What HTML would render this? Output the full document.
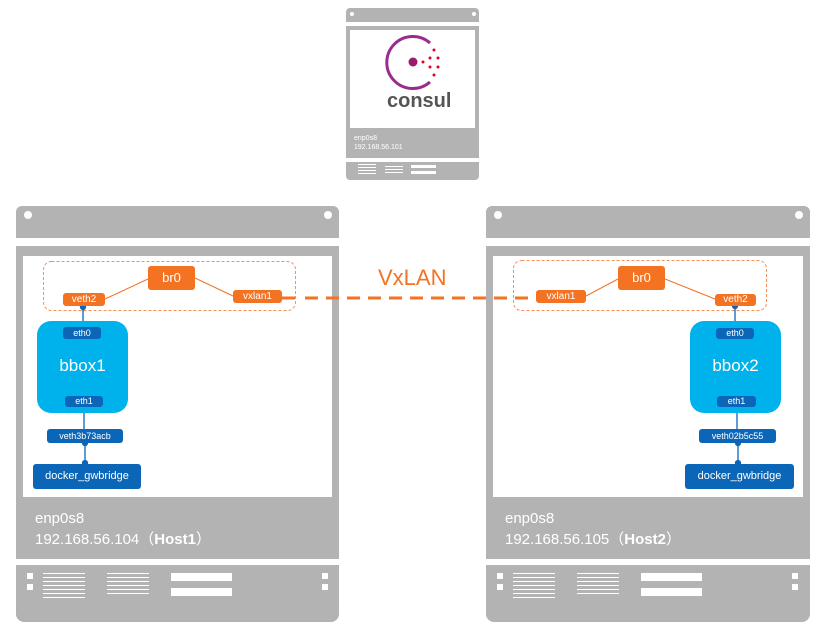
<!DOCTYPE html>
<html><head><meta charset="utf-8"><style>
body{margin:0;width:821px;height:627px;background:#fff;position:relative;overflow:hidden;font-family:"Liberation Sans","DejaVu Sans",sans-serif}
div{position:absolute;box-sizing:border-box}
.g{background:#b3b3b3}
.w{background:#fff}
.o{background:#f47322;color:#fff;text-align:center;border-radius:3px}
.b{background:#0b66b8;color:#fff;text-align:center;border-radius:3px}
.c{background:#00b2ec;color:#fff;text-align:center;border-radius:14px}
.t{color:#fff}
.dot{background:#fff;border-radius:50%}
.sq{background:#fff}
</style></head><body>
<!-- consul -->
<div class="g" style="left:346px;top:8px;width:133px;height:14px;border-radius:4px 4px 0 0"></div>
<div class="dot" style="left:350px;top:12px;width:4px;height:4px"></div>
<div class="dot" style="left:472px;top:12px;width:4px;height:4px"></div>
<div class="g" style="left:346px;top:26px;width:133px;height:132px"></div>
<div class="w" style="left:350px;top:30px;width:125px;height:98px"></div>
<svg style="position:absolute;left:0;top:0" width="821" height="627">
<path d="M430 43 A26 26 0 1 0 430 82" fill="none" stroke="#9a2b8f" stroke-width="3"/>
<circle cx="413" cy="62" r="4.5" fill="#9a1d6d"/>
<g fill="#e0002a"><circle cx="423" cy="62" r="1.5"/><circle cx="434" cy="50" r="1.5"/><circle cx="430" cy="58" r="1.5"/><circle cx="438" cy="58" r="1.5"/><circle cx="430" cy="67" r="1.5"/><circle cx="438" cy="67" r="1.5"/><circle cx="434" cy="75" r="1.5"/></g>
</svg>
<div style="left:387px;top:90px;font-size:20px;font-weight:bold;color:#555">consul</div>
<div class="t" style="left:354px;top:134px;font-size:7px;line-height:9px">enp0s8<br>192.168.56.101</div>
<div class="g" style="left:346px;top:162px;width:133px;height:18px;border-radius:0 0 4px 4px"></div>
<div class="sq" style="left:411px;top:165px;width:25px;height:3px"></div>
<div class="sq" style="left:411px;top:171px;width:25px;height:3px"></div>

<!-- Host1 -->
<div class="g" style="left:16px;top:206px;width:323px;height:32px;border-radius:6px 6px 0 0"></div>
<div class="dot" style="left:24px;top:211px;width:8px;height:8px"></div>
<div class="dot" style="left:324px;top:211px;width:8px;height:8px"></div>
<div class="g" style="left:16px;top:246px;width:323px;height:313px"></div>
<div class="w" style="left:23px;top:256px;width:309px;height:241px"></div>
<div class="t" style="left:35px;top:508px;font-size:15px;line-height:21px">enp0s8<br>192.168.56.104（<b>Host1</b>）</div>
<div class="g" style="left:16px;top:565px;width:323px;height:57px;border-radius:0 0 8px 8px"></div>
<div class="sq" style="left:27px;top:573px;width:6px;height:6px"></div><div class="sq" style="left:27px;top:584px;width:6px;height:6px"></div>
<div class="sq" style="left:322px;top:573px;width:6px;height:6px"></div><div class="sq" style="left:322px;top:584px;width:6px;height:6px"></div>
<div class="sq" style="left:171px;top:573px;width:61px;height:8px"></div><div class="sq" style="left:171px;top:588px;width:61px;height:8px"></div>

<!-- Host2 -->
<div class="g" style="left:486px;top:206px;width:324px;height:32px;border-radius:6px 6px 0 0"></div>
<div class="dot" style="left:494px;top:211px;width:8px;height:8px"></div>
<div class="dot" style="left:795px;top:211px;width:8px;height:8px"></div>
<div class="g" style="left:486px;top:246px;width:324px;height:313px"></div>
<div class="w" style="left:493px;top:256px;width:310px;height:241px"></div>
<div class="t" style="left:505px;top:508px;font-size:15px;line-height:21px">enp0s8<br>192.168.56.105（<b>Host2</b>）</div>
<div class="g" style="left:486px;top:565px;width:324px;height:57px;border-radius:0 0 8px 8px"></div>
<div class="sq" style="left:497px;top:573px;width:6px;height:6px"></div><div class="sq" style="left:497px;top:584px;width:6px;height:6px"></div>
<div class="sq" style="left:792px;top:573px;width:6px;height:6px"></div><div class="sq" style="left:792px;top:584px;width:6px;height:6px"></div>
<div class="sq" style="left:641px;top:573px;width:61px;height:8px"></div><div class="sq" style="left:641px;top:588px;width:61px;height:8px"></div>

<svg style="position:absolute;left:0;top:0" width="821" height="627">
<g stroke="#fff" stroke-width="1">
<path d="M43 573.5h42M43 577.5h42M43 581.5h42M43 585.5h42M43 589.5h42M43 593.5h42M43 597.5h42"/>
<path d="M107 573.5h42M107 577.5h42M107 581.5h42M107 585.5h42M107 589.5h42M107 593.5h42"/>
<path d="M513 573.5h42M513 577.5h42M513 581.5h42M513 585.5h42M513 589.5h42M513 593.5h42M513 597.5h42"/>
<path d="M577 573.5h42M577 577.5h42M577 581.5h42M577 585.5h42M577 589.5h42M577 593.5h42"/>
<path d="M358 164.5h18M358 167.5h18M358 170.5h18M358 173.5h18M385 166.5h18M385 169.5h18M385 172.5h18"/>
</g>
<rect x="43.5" y="261.5" width="252" height="49" rx="8" fill="none" stroke="#f4915a" stroke-dasharray="3,2"/>
<rect x="513.5" y="260.5" width="253" height="50" rx="8" fill="none" stroke="#f4915a" stroke-dasharray="3,2"/>
<g stroke="#f47322" stroke-width="1">
<path d="M105 299 L148 279 M195 278 L233 296"/>
<path d="M586 296 L618 279 M665 279 L715 299"/>
</g>
<path d="M282 298 H296 M305 298 H535" stroke="#f47322" stroke-width="3" stroke-dasharray="13,8"/>
<g stroke="#0b66b8" stroke-width="1.3" fill="#0b66b8">
<path d="M83 306V327M84 407V429M85 443V464"/>
<circle cx="83" cy="307" r="2.5"/><circle cx="84" cy="408" r="2.5"/><circle cx="85" cy="443" r="2.5"/><circle cx="85" cy="463" r="2.5"/>
<path d="M735 305V328M737 407V429M738 443V464"/>
<circle cx="735" cy="306" r="2.5"/><circle cx="737" cy="408" r="2.5"/><circle cx="738" cy="443" r="2.5"/><circle cx="738" cy="463" r="2.5"/>
</g>
</svg>
<div style="left:378px;top:265px;font-size:22px;color:#f47322">VxLAN</div>

<div class="o" style="left:148px;top:266px;width:47px;height:24px;font-size:13px;line-height:24px">br0</div>
<div class="o" style="left:63px;top:293px;width:42px;height:13px;font-size:10px;line-height:13px">veth2</div>
<div class="o" style="left:233px;top:290px;width:49px;height:13px;font-size:10px;line-height:13px">vxlan1</div>
<div class="c" style="left:37px;top:321px;width:91px;height:92px;font-size:17px;line-height:90px">bbox1</div>
<div class="b" style="left:63px;top:327px;width:38px;height:12px;font-size:9px;line-height:12px">eth0</div>
<div class="b" style="left:65px;top:396px;width:38px;height:11px;font-size:9px;line-height:11px">eth1</div>
<div class="b" style="left:47px;top:429px;width:76px;height:14px;font-size:9px;line-height:14px">veth3b73acb</div>
<div class="b" style="left:33px;top:464px;width:108px;height:25px;font-size:11px;line-height:25px">docker_gwbridge</div>

<div class="o" style="left:618px;top:266px;width:47px;height:24px;font-size:13px;line-height:24px">br0</div>
<div class="o" style="left:715px;top:294px;width:41px;height:12px;font-size:10px;line-height:12px">veth2</div>
<div class="o" style="left:536px;top:290px;width:50px;height:13px;font-size:10px;line-height:13px">vxlan1</div>
<div class="c" style="left:690px;top:321px;width:91px;height:92px;font-size:17px;line-height:90px">bbox2</div>
<div class="b" style="left:716px;top:328px;width:38px;height:11px;font-size:9px;line-height:11px">eth0</div>
<div class="b" style="left:717px;top:396px;width:39px;height:11px;font-size:9px;line-height:11px">eth1</div>
<div class="b" style="left:699px;top:429px;width:77px;height:14px;font-size:9px;line-height:14px">veth02b5c55</div>
<div class="b" style="left:685px;top:464px;width:109px;height:25px;font-size:11px;line-height:25px">docker_gwbridge</div>
</body></html>
